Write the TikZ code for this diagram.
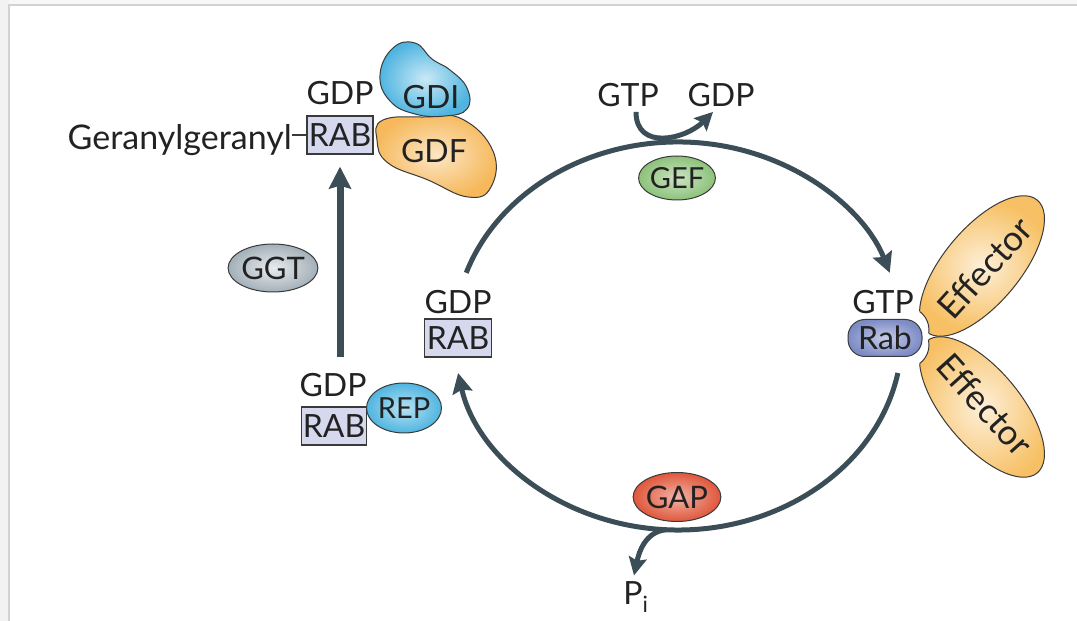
\documentclass[tikz,border=0pt]{standalone}
\usepackage{fontspec}
\setmainfont{Lato}
\usetikzlibrary{arrows.meta,shapes.geometric}
\definecolor{cyc}{HTML}{3B4D57}
\definecolor{txt}{HTML}{222222}
\definecolor{edge}{HTML}{3A3A3A}
\definecolor{rabfill}{HTML}{D6D9EE}
\definecolor{rabblue}{HTML}{7E8CC6}
\definecolor{gdiblue}{HTML}{4FB5E0}
\definecolor{gdforange}{HTML}{F6B85A}
\definecolor{effc}{HTML}{F7C064}
\definecolor{gefc}{HTML}{8CC27A}
\definecolor{gapc}{HTML}{E0573B}
\definecolor{ggtc}{HTML}{A3B0B8}

\begin{document}
\begin{tikzpicture}[x=1pt,y=1pt,
  lbl/.style={font=\fontsize{32}{36}\selectfont, text=txt, inner sep=0pt},
  small/.style={font=\fontsize{29}{33}\selectfont, text=txt, inner sep=0pt},
  rabbox/.style={lbl, draw=edge, line width=1.3pt, fill=rabfill, minimum width=66, minimum height=38},
  blob/.style={shape=ellipse, draw=edge, line width=1pt, small},
  cycarrow/.style={draw=cyc, line width=5pt, -{Stealth[length=20pt,width=20pt,inset=3pt]}},
  outline/.style={draw=edge, line width=1pt}]
  \useasboundingbox (0,0) rectangle (1077,621);
  % panel edge
  \fill[gray!10] (0,0) rectangle (9,621);
  \fill[gray!6] (9,616) rectangle (1077,621);
  \draw[gray!35, line width=1.2pt] (9,0) -- (9,616) -- (1077,616);

  % effectors (drawn first, bitten by Rab)
  \coordinate (effU) at (982,355);
  \coordinate (effD) at (982,214);
  \shadedraw[outline, inner color=effc!25!white, outer color=effc, rotate around={50:(effU)}]
    (effU) ellipse[x radius=86, y radius=38];
  \shadedraw[outline, inner color=effc!25!white, outer color=effc, rotate around={-50:(effD)}]
    (effD) ellipse[x radius=86, y radius=38];
  \fill[white] (906,291) circle (23);
  \fill[white] (906,276) circle (23);
  \begin{scope}
    \clip[rotate around={50:(effU)}] (effU) ellipse[x radius=86, y radius=38];
    \draw[outline] (906,291) circle (23);
  \end{scope}
  \begin{scope}
    \clip[rotate around={-50:(effD)}] (effD) ellipse[x radius=86, y radius=38];
    \draw[outline] (906,276) circle (23);
  \end{scope}
  \node[small, font=\fontsize{35}{38}\selectfont, rotate=48] (effup) at ([shift={(3,-2)}]effU) {Effector};
  \node[small, font=\fontsize{35}{38}\selectfont, rotate=-48] (effdown) at ([shift={(3,2)}]effD) {Effector};

  % active Rab
  \node[lbl] (gtpR) at (883,319) {GTP};
  \node[lbl, draw=edge, line width=1pt, rounded corners=17, minimum width=74, minimum height=37,
        inner color=rabblue!45!white, outer color=rabblue] (rab) at (885,283) {Rab};

  % the cycle
  \coordinate (c) at (678,285);
  \draw[cycarrow] ([shift={(161:224 and 194)}]c) arc[start angle=161, end angle=19, x radius=224, y radius=194];
  \draw[cycarrow] ([shift={(-11:224 and 194)}]c) arc[start angle=-11, end angle=-169, x radius=224, y radius=194];
  \coordinate (pout) at ([shift={(-93:224 and 194)}]c);

  \node[blob, minimum width=74, minimum height=44, inner color=gefc!45!white, outer color=gefc] (gef) at (677,443) {GEF};
  \node[blob, font=\fontsize{31}{35}\selectfont, minimum width=78, minimum height=49,
        inner color=gapc!45!white, outer color=gapc] (gap) at (677,124) {GAP};

  \node[lbl] (gtpT) at (628,526) {GTP};
  \node[lbl] (gdpT) at (721,526) {GDP};
  \draw[draw=cyc, line width=5pt, -{Stealth[length=18pt,width=18pt,inset=3pt]}]
    ([xshift=8,yshift=-5]gtpT.south) to[out=-90,in=-135,looseness=1.3] ([xshift=-8,yshift=-5]gdpT.south);

  \node[lbl] (pi) at (636,24) {P\textsubscript{i}};
  \draw[draw=cyc, line width=5pt, -{Stealth[length=18pt,width=18pt,inset=3pt]}]
    (pout) to[out=185,in=78] ([xshift=-2,yshift=6]pi.north);

  % GDP-RAB, middle
  \node[lbl] (gdpM) at (458,319) {GDP};
  \node[rabbox, minimum width=67] (rabM) at (458,283) {RAB};

  % GDP-RAB with REP
  \node[blob, minimum width=75, minimum height=50,
        inner color=gdiblue!40!white, outer color=gdiblue] (rep) at (404,213) {REP};
  \node[lbl] (gdpB) at (333,236) {GDP};
  \node[rabbox, minimum width=65] (rabB) at (334,195) {RAB};

  \node[blob, font=\fontsize{31}{35}\selectfont, minimum width=83, minimum height=48,
        inner color=ggtc!25!white, outer color=ggtc] (ggt) at (273,353) {GGT};

  % prenylated RAB with GDI/GDF
  \shadedraw[outline, inner color=gdforange!35!white, outer color=gdforange]
    plot[smooth cycle, tension=0.75] coordinates {(383,501) (425,504) (462,502) (493,470) (491,434) (468,424) (428,441) (388,458) (377,481)};
  \shadedraw[outline, inner color=gdiblue!30!white, outer color=gdiblue]
    plot[smooth cycle, tension=0.75] coordinates {(380,546) (393,573) (415,578) (432,562) (450,551) (467,533) (467,512) (445,505) (415,507) (390,520)};
  \node[lbl] (gdi) at (431,524) {GDI};
  \node[lbl] (gdf) at (434,470) {GDF};
  \node[lbl] (gdpT2) at (340,528) {GDP};
  \node[rabbox] (rabT) at (340,486) {RAB};
  \node[lbl, font=\fontsize{34}{38}\selectfont, anchor=base east] (gg) at (292,471) {Geranylgeranyl};
  \draw[edge, line width=1.3pt] (gg.east |- rabT.west) -- (rabT.west);

  \draw[draw=cyc, line width=7pt, -{Stealth[length=22pt,width=22pt,inset=3pt]}, shorten <=16pt, shorten >=12pt]
    (rabT.south |- gdpB.north) -- (rabT.south);
\end{tikzpicture}
\end{document}
